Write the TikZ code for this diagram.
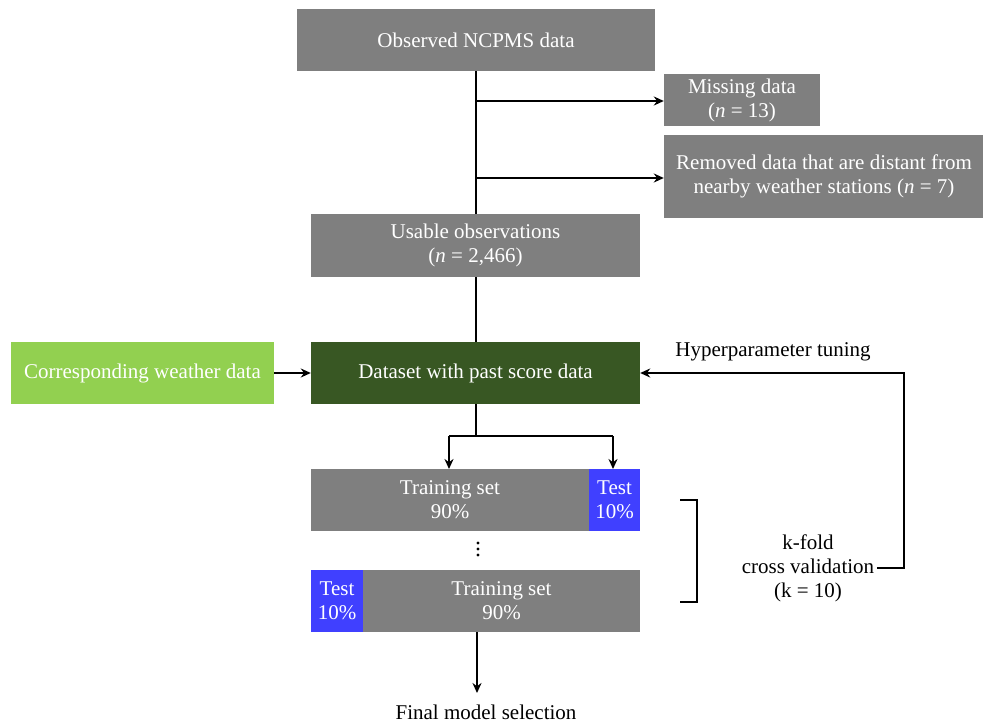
\documentclass[tikz,border=0pt]{standalone}
\usepackage{fontspec}
\setmainfont{Liberation Serif}
\usetikzlibrary{arrows.meta}
\definecolor{boxgray}{HTML}{7F7F7F}
\definecolor{darkgreen}{HTML}{385723}
\definecolor{lightgreen}{HTML}{92D050}
\definecolor{testblue}{HTML}{4040FF}
\begin{document}
\begin{tikzpicture}[x=1pt,y=-1pt,
  box/.style={fill=boxgray,text=white,inner sep=0pt,align=center,font=\fontsize{21}{24}\selectfont},
  lbl/.style={inner sep=0pt,align=center,font=\fontsize{21}{24}\selectfont},
  conn/.style={line width=2.1pt},
  arr/.style={line width=2.1pt,-{Stealth[length=10pt,width=9pt]}}]
\useasboundingbox (0,0) rectangle (983,725);
\fill[white] (0,0) rectangle (983,725);
\node[box,minimum width=358pt,minimum height=62pt] (obs) at (476,40) {Observed NCPMS data};
\node[box,minimum width=156pt,minimum height=52pt] (miss) at (742,100) {Missing data\\(\textit{n} = 13)};
\node[box,minimum width=320pt,minimum height=83pt] (rem) at (824,176.5) {Removed data that are distant from\\nearby weather stations (\textit{n} = 7)};
\node[box,minimum width=329pt,minimum height=63pt] (use) at (475.5,245.5) {Usable observations\\(\textit{n} = 2,466)};
\node[box,fill=lightgreen,minimum width=263pt,minimum height=62pt] (wx) at (142.5,373) {Corresponding weather data};
\node[box,fill=darkgreen,minimum width=329pt,minimum height=62pt] (ds) at (475.5,373) {Dataset with past score data};
\node[lbl] (hyp) at (773,352) {Hyperparameter tuning};
\node[box,minimum width=278pt,minimum height=62pt] (tr1) at (450,500) {Training set\\90\%};
\node[box,fill=testblue,minimum width=51pt,minimum height=62pt] (te1) at (614.5,500) {Test\\10\%};
\node[box,fill=testblue,minimum width=52pt,minimum height=62pt] (te2) at (337,601) {Test\\10\%};
\node[box,minimum width=277pt,minimum height=62pt] (tr2) at (501.5,601) {Training set\\90\%};
\node[lbl] (kf) at (808,568) {k-fold\\cross validation\\(k = 10)};
\node[lbl,anchor=base] (fin) at (486,719) {Final model selection};
\fill (478,543) circle (1.7pt) (478,549) circle (1.7pt) (478,555) circle (1.7pt);
% main trunk
\coordinate (b1) at (476,101);
\coordinate (b2) at (476,178);
\draw[conn] (476,71) -- (476,214);
\draw[arr] (b1) -- (miss.west |- b1);
\draw[arr] (b2) -- (rem.west |- b2);
\draw[conn] (476,277) -- (476,342);
\draw[arr] (wx.east) -- (ds.west);
% split
\coordinate (sp) at (476,436);
\draw[conn] (476,404) -- (sp);
\draw[conn] (449,436) -- (613,436);
\draw[arr] (449,436) -- (449,469);
\draw[arr] (613,436) -- (613,469);
% bracket
\draw[line width=2.4pt] (680,500) -- (697,500) -- (697,602) -- (680,602);
% feedback
\draw[arr] (877,568) -- (904,568) -- (904,373) -- (ds.east);
% final
\coordinate (fend) at (477,693);
\draw[arr] (477,632) -- (fend);
\end{tikzpicture}
\end{document}
